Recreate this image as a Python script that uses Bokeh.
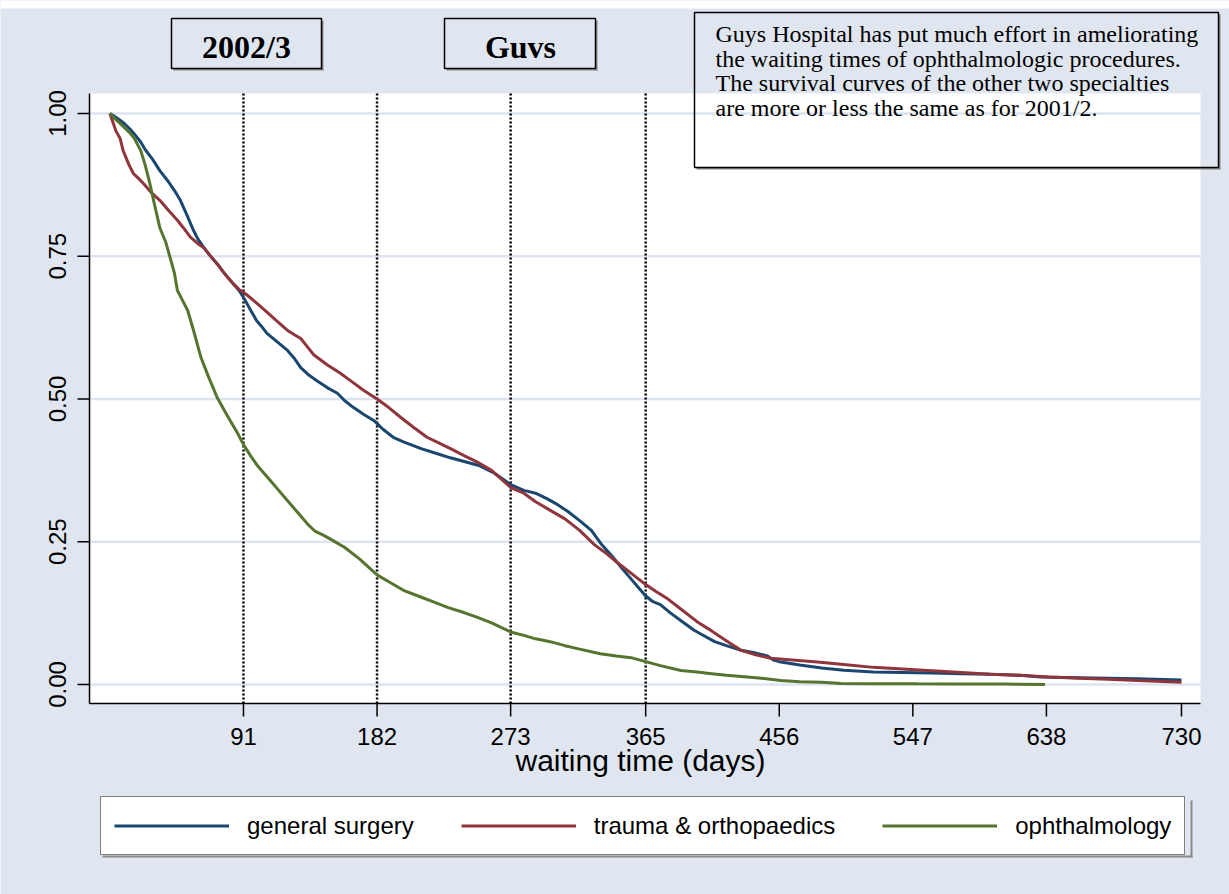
import math
from bokeh.plotting import figure
from bokeh.models import Range1d, Legend, LegendItem
from bokeh.core.properties import value
from bokeh.embed import file_html
from bokeh.resources import INLINE

# ---------------- data ----------------
x_ticks = [91, 182, 273, 365, 456, 547, 638, 730]
y_ticks = [0.0, 0.25, 0.5, 0.75, 1.0]
quarter_marks = [91, 182, 273, 365]

gs_days = [0, 3, 6, 10, 14, 17, 21, 24, 29, 34, 40, 44, 48, 52, 57, 60, 64, 68, 73, 78, 84, 88, 91,
           96, 100, 104, 107, 114, 121, 126, 130, 135, 141, 148, 155, 160, 166, 173, 180, 186, 193,
           200, 212, 222, 232, 242, 252, 262, 273, 282, 290, 298, 305, 312, 320, 328, 335, 342, 350,
           355, 360, 365, 370, 375, 382, 390, 398, 405, 412, 420, 430, 440, 448, 452, 456, 470, 485,
           500, 520, 540, 560, 580, 600, 620, 634, 660, 680, 700, 730]
gs_surv = [1.0, .995, .99, .982, .972, .963, .95, .937, .92, .90, .88, .865, .848, .825, .795, .78,
           .765, .752, .737, .72, .702, .69, .678, .655, .637, .625, .615, .60, .585, .57, .555, .543,
           .532, .52, .51, .497, .485, .473, .462, .447, .433, .425, .413, .405, .397, .39, .383, .37,
           .35, .34, .335, .325, .315, .303, .287, .27, .245, .225, .20, .185, .17, .155, .145, .14,
           .125, .11, .095, .085, .075, .068, .06, .055, .05, .043, .04, .034, .029, .025, .022, .021,
           .02, .019, .018, .016, .013, .012, .011, .01, .008]

to_days = [0, 2, 4, 7, 9, 13, 16, 20, 23, 28, 34, 40, 46, 50, 55, 60, 64, 68, 73, 78, 84, 88, 93,
           100, 107, 114, 121, 126, 130, 135, 139, 148, 157, 165, 173, 182, 190, 198, 207, 216, 224,
           232, 242, 250, 260, 273, 282, 290, 300, 310, 320, 330, 338, 345, 355, 365, 372, 380, 390,
           400, 408, 415, 422, 430, 440, 450, 465, 480, 500, 520, 540, 560, 580, 600, 620, 640, 660,
           680, 700, 730]
to_surv = [1.0, .985, .97, .956, .935, .91, .895, .885, .877, .862, .848, .83, .813, .80, .783, .772,
           .765, .752, .737, .72, .702, .692, .683, .668, .652, .636, .620, .612, .606, .59, .577,
           .56, .545, .53, .515, .50, .485, .468, .45, .433, .423, .413, .40, .39, .375, .345, .335,
           .32, .305, .29, .27, .245, .23, .215, .195, .175, .163, .15, .13, .11, .097, .085, .073,
           .06, .052, .046, .043, .04, .035, .03, .027, .024, .021, .018, .016, .013, .011, .009,
           .007, .004]

oph_days = [0, 3, 6, 10, 14, 17, 21, 24, 27, 30, 34, 38, 41, 44, 46, 50, 53, 57, 62, 67, 73, 78, 82,
            87, 91, 96, 100, 105, 110, 115, 120, 125, 130, 135, 140, 145, 150, 160, 170, 182, 190,
            200, 210, 220, 230, 240, 250, 260, 273, 282, 290, 300, 310, 320, 334, 345, 355, 365, 375,
            389, 400, 410, 420, 430, 440, 457, 470, 485, 498, 520, 550, 580, 610, 637]
oph_surv = [1.0, .992, .985, .975, .965, .955, .935, .91, .88, .845, .80, .775, .748, .72, .69, .67,
            .655, .62, .573, .54, .503, .48, .462, .44, .42, .40, .385, .37, .355, .34, .325, .31,
            .295, .28, .268, .262, .255, .24, .22, .192, .18, .165, .155, .145, .135, .127, .118,
            .108, .092, .086, .08, .075, .068, .062, .054, .05, .047, .04, .033, .0245, .022, .019,
            .016, .014, .012, .007, .005, .004, .0017, .0015, .0012, .001, .0008, 0.0]

series_names = ["general surgery", "trauma & orthopaedics", "ophthalmology"]
series_colors = ["#1a476f", "#90353b", "#55752f"]

x_title = "waiting time (days)"
title_left = "2002/3"
title_right = "Guvs"
note_lines = [
    "Guys Hospital has put much effort in ameliorating",
    "the waiting times of ophthalmologic procedures.",
    "The survival curves of the other two specialties",
    "are more or less the same as for 2001/2.",
]

# ---------------- page layout (pixels) ----------------
W, H = 1229, 894
BG = "#e0e6f0"
SHADOW = "#8a8a8a"
GRID = "#dde4ef"
X0, KX = 109.4, 1.4679      # page x of day 0, pixels per day
Y0, KY = 684.0, 571.0       # page y of survival 0, pixels per unit
PL, PR, PT, PB = 89, 1200, 93, 703   # plot region on the page


def dx(px):
    """page x pixel -> data x"""
    return (px - X0) / KX


def dy(py):
    """page y pixel -> data y"""
    return (Y0 - py) / KY


SANS = value("Liberation Sans")
SERIF = value("Liberation Serif")

p = figure(width=W, height=H, output_backend="svg", toolbar_location=None, title=None,
           x_range=Range1d(dx(0), dx(W)), y_range=Range1d(dy(H), dy(0)),
           x_axis_location=None, y_axis_location=None,
           min_border_left=0, min_border_right=0, min_border_top=0, min_border_bottom=0)
p.grid.visible = False
p.outline_line_color = None
p.background_fill_color = BG
p.border_fill_color = BG


def pquad(l, t, r, b, **kw):
    return p.quad(left=[dx(l)], right=[dx(r)], top=[dy(t)], bottom=[dy(b)], **kw)


# white strip at the page top and white plot region
pquad(0, 0, W, 8, fill_color="white", line_color=None)
pquad(PL, PT, PR, PB, fill_color="white", line_color=None)

xl, xr, yb, yt = dx(PL), dx(PR), dy(PB), dy(PT)

# horizontal grid lines
p.segment(x0=[xl] * len(y_ticks), x1=[xr] * len(y_ticks), y0=y_ticks, y1=y_ticks,
          line_color=GRID, line_width=2.5)
# dotted quarter marks
p.segment(x0=quarter_marks, x1=quarter_marks, y0=[yb] * len(quarter_marks),
          y1=[yt] * len(quarter_marks), line_color="black", line_width=2.5, line_dash="2 2")

# survival curves
renderers = []
for d, s, col in zip([gs_days, to_days, oph_days], [gs_surv, to_surv, oph_surv], series_colors):
    renderers.append(p.line(d, s, line_color=col, line_width=3))

# axes: lines, ticks, tick labels, title
p.segment(x0=[xl, xl], x1=[xl, xr], y0=[yb, yb], y1=[yt, yb], line_color="black", line_width=1.5)
p.segment(x0=x_ticks, x1=x_ticks, y0=[yb] * len(x_ticks), y1=[dy(PB + 13)] * len(x_ticks),
          line_color="black", line_width=1.5)
p.segment(x0=[dx(PL - 12)] * len(y_ticks), x1=[xl] * len(y_ticks), y0=y_ticks, y1=y_ticks,
          line_color="black", line_width=1.5)
p.text(x=x_ticks, y=[dy(735.5)] * len(x_ticks), text=[str(t) for t in x_ticks],
       text_font=SANS, text_font_size=value("24px"), text_align="center",
       text_baseline="middle", text_color="black")
p.text(x=[dx(56.5)] * len(y_ticks), y=y_ticks, text=[f"{t:.2f}" for t in y_ticks],
       angle=math.pi / 2, text_font=SANS, text_font_size=value("24px"), text_align="center",
       text_baseline="middle", text_color="black")
p.text(x=[dx(640)], y=[dy(759.5)], text=[x_title], text_font=SANS,
       text_font_size=value("30px"), text_align="center", text_baseline="middle",
       text_color="black")


# header boxes
def framed(l, t, r, b, fill):
    pquad(l + 2, b, r + 2, b + 2, fill_color=SHADOW, line_color=None)
    pquad(r, t + 2, r + 2, b + 2, fill_color=SHADOW, line_color=None)
    if fill:
        pquad(l, t, r, b, fill_color=fill, line_color="black", line_width=1.5)
    else:
        pquad(l, t, r, b, fill_alpha=0.0, line_color="black", line_width=1.5)


framed(171, 18, 321, 68, BG)
framed(444, 18, 595, 68, BG)
framed(694, 12, 1218, 167, None)

p.text(x=[dx(246), dx(520)], y=[dy(46.5), dy(46.5)], text=[title_left, title_right],
       text_font=SERIF, text_font_style="bold", text_font_size=value("32px"),
       text_align="center", text_baseline="middle", text_color="black")
p.text(x=[dx(715)] * 4, y=[dy(33.4), dy(58.1), dy(82.8), dy(107.5)], text=note_lines,
       text_font=SERIF, text_font_size=value("24px"), text_align="left",
       text_baseline="middle", text_color="black")

# legend below the plot
pquad(102, 855, 1192, 857, fill_color=SHADOW, line_color=None)
pquad(1190, 800, 1192, 857, fill_color=SHADOW, line_color=None)
legend = Legend(items=[LegendItem(label=n, renderers=[r]) for n, r in zip(series_names, renderers)])
legend.orientation = "horizontal"
legend.location = (100, H - 855)
legend.margin = 0
legend.padding = 13
legend.spacing = 47
legend.glyph_width = 115
legend.glyph_height = 31
legend.label_height = 31
legend.label_standoff = 18
legend.label_text_font = "Liberation Sans"
legend.label_text_font_size = "24px"
legend.label_text_color = "black"
legend.border_line_color = "black"
legend.border_line_width = 1.5
legend.background_fill_color = "white"
legend.background_fill_alpha = 1.0
p.add_layout(legend, "center")

open("out.html", "w").write(file_html(p, INLINE))
